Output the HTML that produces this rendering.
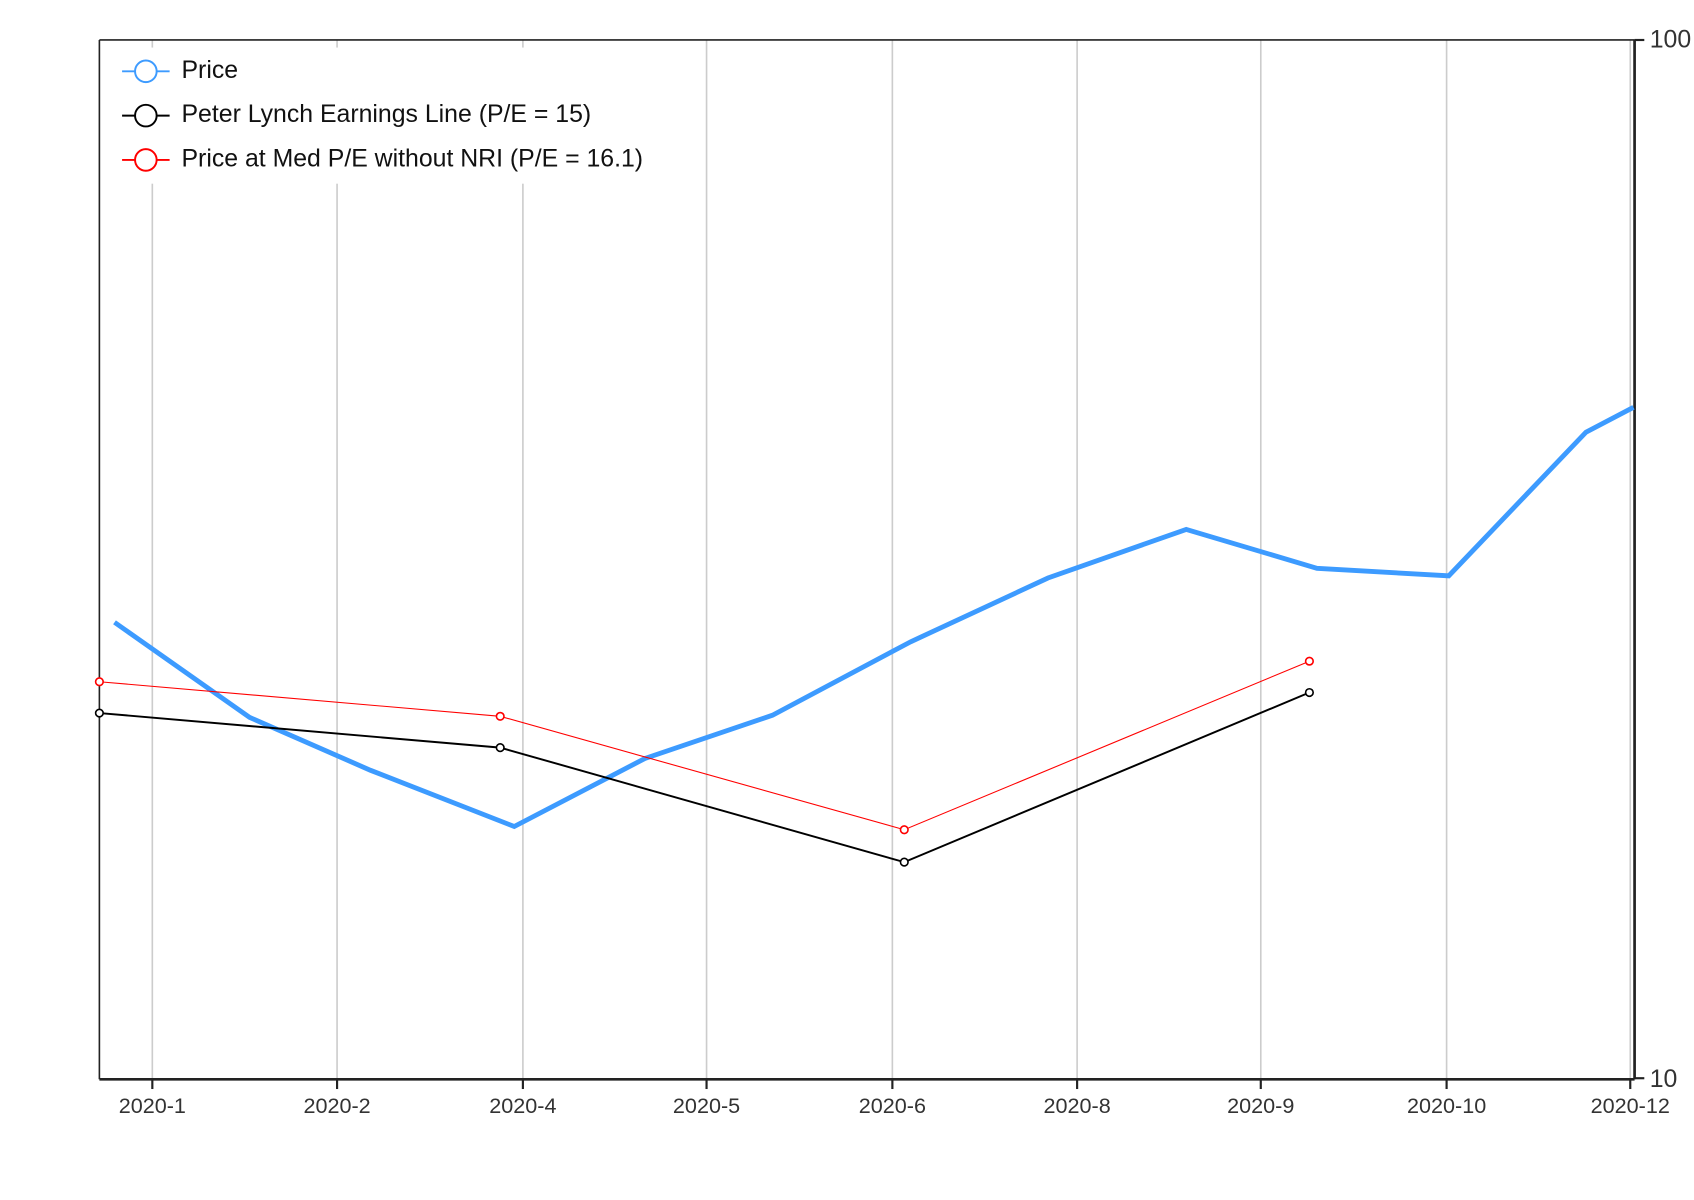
<!DOCTYPE html>
<html><head><meta charset="utf-8"><style>html,body{margin:0;padding:0;background:#fff}svg{display:block}</style></head>
<body>
<svg width="1694" height="1200" viewBox="0 0 1568 1110.7" xmlns="http://www.w3.org/2000/svg" font-family="'Liberation Sans', sans-serif">
<rect width="1568" height="1111" fill="#fff"/>
<g stroke="#cccccc" stroke-width="1.5">
<line x1="141" y1="37" x2="141" y2="999"/><line x1="312" y1="37" x2="312" y2="999"/><line x1="484" y1="37" x2="484" y2="999"/><line x1="654" y1="37" x2="654" y2="999"/><line x1="826" y1="37" x2="826" y2="999"/><line x1="997" y1="37" x2="997" y2="999"/><line x1="1167" y1="37" x2="1167" y2="999"/><line x1="1339" y1="37" x2="1339" y2="999"/><line x1="1509" y1="37" x2="1509" y2="999"/>
</g>
<rect x="100" y="44" width="520" height="126" fill="#fff"/>
<line x1="92" y1="37" x2="1513" y2="37" stroke="#222" stroke-width="1.5"/>
<line x1="92" y1="37" x2="92" y2="999" stroke="#222" stroke-width="1.5"/>
<line x1="92" y1="999" x2="1513" y2="999" stroke="#222" stroke-width="2.5"/>
<line x1="1513" y1="37" x2="1513" y2="999" stroke="#222" stroke-width="2.5"/>
<g stroke="#222" stroke-width="2">
<line x1="1513" y1="37" x2="1522" y2="37"/><line x1="1513" y1="998" x2="1522" y2="998"/>
<line x1="141" y1="999" x2="141" y2="1008"/><line x1="312" y1="999" x2="312" y2="1008"/><line x1="484" y1="999" x2="484" y2="1008"/><line x1="654" y1="999" x2="654" y2="1008"/><line x1="826" y1="999" x2="826" y2="1008"/><line x1="997" y1="999" x2="997" y2="1008"/><line x1="1167" y1="999" x2="1167" y2="1008"/><line x1="1339" y1="999" x2="1339" y2="1008"/><line x1="1509" y1="999" x2="1509" y2="1008"/>
</g>
<g fill="#333">
<text x="1527" y="44" font-size="23">100</text><text x="1527" y="1006" font-size="23">10</text>
<g text-anchor="middle" font-size="20">
<text x="141" y="1030">2020-1</text><text x="312" y="1030">2020-2</text><text x="484" y="1030">2020-4</text><text x="654" y="1030">2020-5</text><text x="826" y="1030">2020-6</text><text x="997" y="1030">2020-8</text><text x="1167" y="1030">2020-9</text><text x="1339" y="1030">2020-10</text><text x="1509" y="1030">2020-12</text>
</g></g>
<polyline fill="none" stroke="#3d9bff" stroke-width="4.5" points="106,576 231,664 343,713 476,765 597,702 715,662 843,594 970,535 1098,490 1219,526 1341,533 1468,400 1512,377"/>
<polyline fill="none" stroke="#000" stroke-width="1.8" points="92,660 463,692 837,798 1212,641"/>
<polyline fill="none" stroke="#ff0000" stroke-width="1" points="92,631 463,663 837,768 1212,612"/>
<g fill="#fff" stroke-width="1.5">
<g stroke="#000"><circle cx="92" cy="660" r="3.5"/><circle cx="463" cy="692" r="3.5"/><circle cx="837" cy="798" r="3.5"/><circle cx="1212" cy="641" r="3.5"/></g>
<g stroke="#f00"><circle cx="92" cy="631" r="3.5"/><circle cx="463" cy="663" r="3.5"/><circle cx="837" cy="768" r="3.5"/><circle cx="1212" cy="612" r="3.5"/></g>
</g>
<g stroke-width="1.8" fill="#fff">
<line x1="113" y1="66" x2="157" y2="66" stroke="#3d9bff"/><circle cx="135" cy="66" r="10" stroke="#3d9bff"/>
<line x1="113" y1="107" x2="157" y2="107" stroke="#000"/><circle cx="135" cy="107" r="10" stroke="#000"/>
<line x1="113" y1="148" x2="157" y2="148" stroke="#f00"/><circle cx="135" cy="148" r="10" stroke="#f00"/>
</g>
<g font-size="23" fill="#111">
<text x="168" y="72">Price</text>
<text x="168" y="113">Peter Lynch Earnings Line (P/E = 15)</text>
<text x="168" y="154">Price at Med P/E without NRI (P/E = 16.1)</text>
</g>
</svg>
</body></html>
